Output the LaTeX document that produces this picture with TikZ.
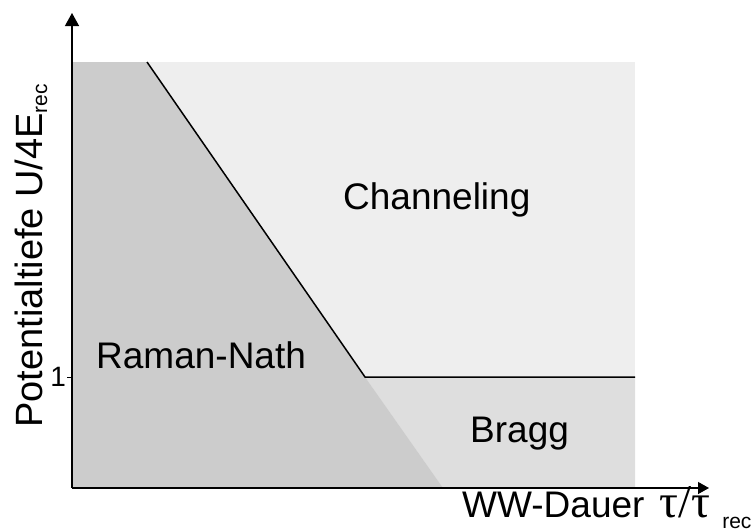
\documentclass[tikz,border=0pt]{standalone}
\usepackage{fontspec}
\setmainfont{Liberation Sans}
\newfontfamily\greekserif{Liberation Serif}
\usetikzlibrary{arrows.meta}
\begin{document}
\begin{tikzpicture}[x=1pt,y=-1pt,
  region/.style={draw=none},
  axisline/.style={line width=1.3pt},
  border/.style={line width=1.5pt},
  lbl/.style={inner sep=0pt,anchor=base west,font=\fontsize{37}{40}\selectfont}]
\useasboundingbox (0,0) rectangle (755,531);
% corner points of the phase regions
\coordinate (tl) at (72,62);
\coordinate (tr) at (635,62);
\coordinate (br) at (635,488);
\coordinate (bl) at (72,488);
\coordinate (top) at (147,62);
\coordinate (knee) at (365,377);
\coordinate (right) at (635,377);
\coordinate (foot) at (443,488);
% regions
\fill[region,fill=black!6.5] (tl) rectangle (br);
\fill[region,fill=black!13] (knee) -- (right) -- (br) -- (foot) -- cycle;
\fill[region,fill=black!20] (tl) -- (top) -- (knee) -- (foot) -- (bl) -- cycle;
% phase boundary
\draw[border] (top) -- (knee) -- (right);
% axes
\coordinate (o) at (72,488);
\coordinate (ytip) at (72,13);
\coordinate (xtip) at (709,488);
\draw[axisline,-{Triangle[length=13pt,width=14pt]}] (o) -- (ytip);
\draw[axisline,-{Triangle[length=11pt,width=12pt]}] (o) -- (xtip);
% tick at 1
\coordinate (tk) at (72,377);
\draw[line width=1pt] (tk) -- ++(-5,0) node[anchor=east,inner sep=0.5pt,font=\fontsize{28}{30}\selectfont] (one) {1};
% labels
\node[lbl] (chan) at (343,209) {Channeling};
\node[lbl] (raman) at (96,368) {Raman-Nath};
\node[lbl] (bragg) at (470,442) {Bragg};
\node[lbl] (xlab) at (462,517)
  {WW-Dauer\hspace{15pt}{\greekserif\fontsize{47}{48}\selectfont τ/τ}\hspace{12pt}\raisebox{-11pt}{\fontsize{21}{22}\selectfont rec}};
\node[lbl,rotate=90,font=\fontsize{38}{40}\selectfont] (ylab) at (42,428)
  {Potentialtiefe U/4E\raisebox{-5pt}{\fontsize{21}{24}\selectfont rec}};
\end{tikzpicture}
\end{document}
